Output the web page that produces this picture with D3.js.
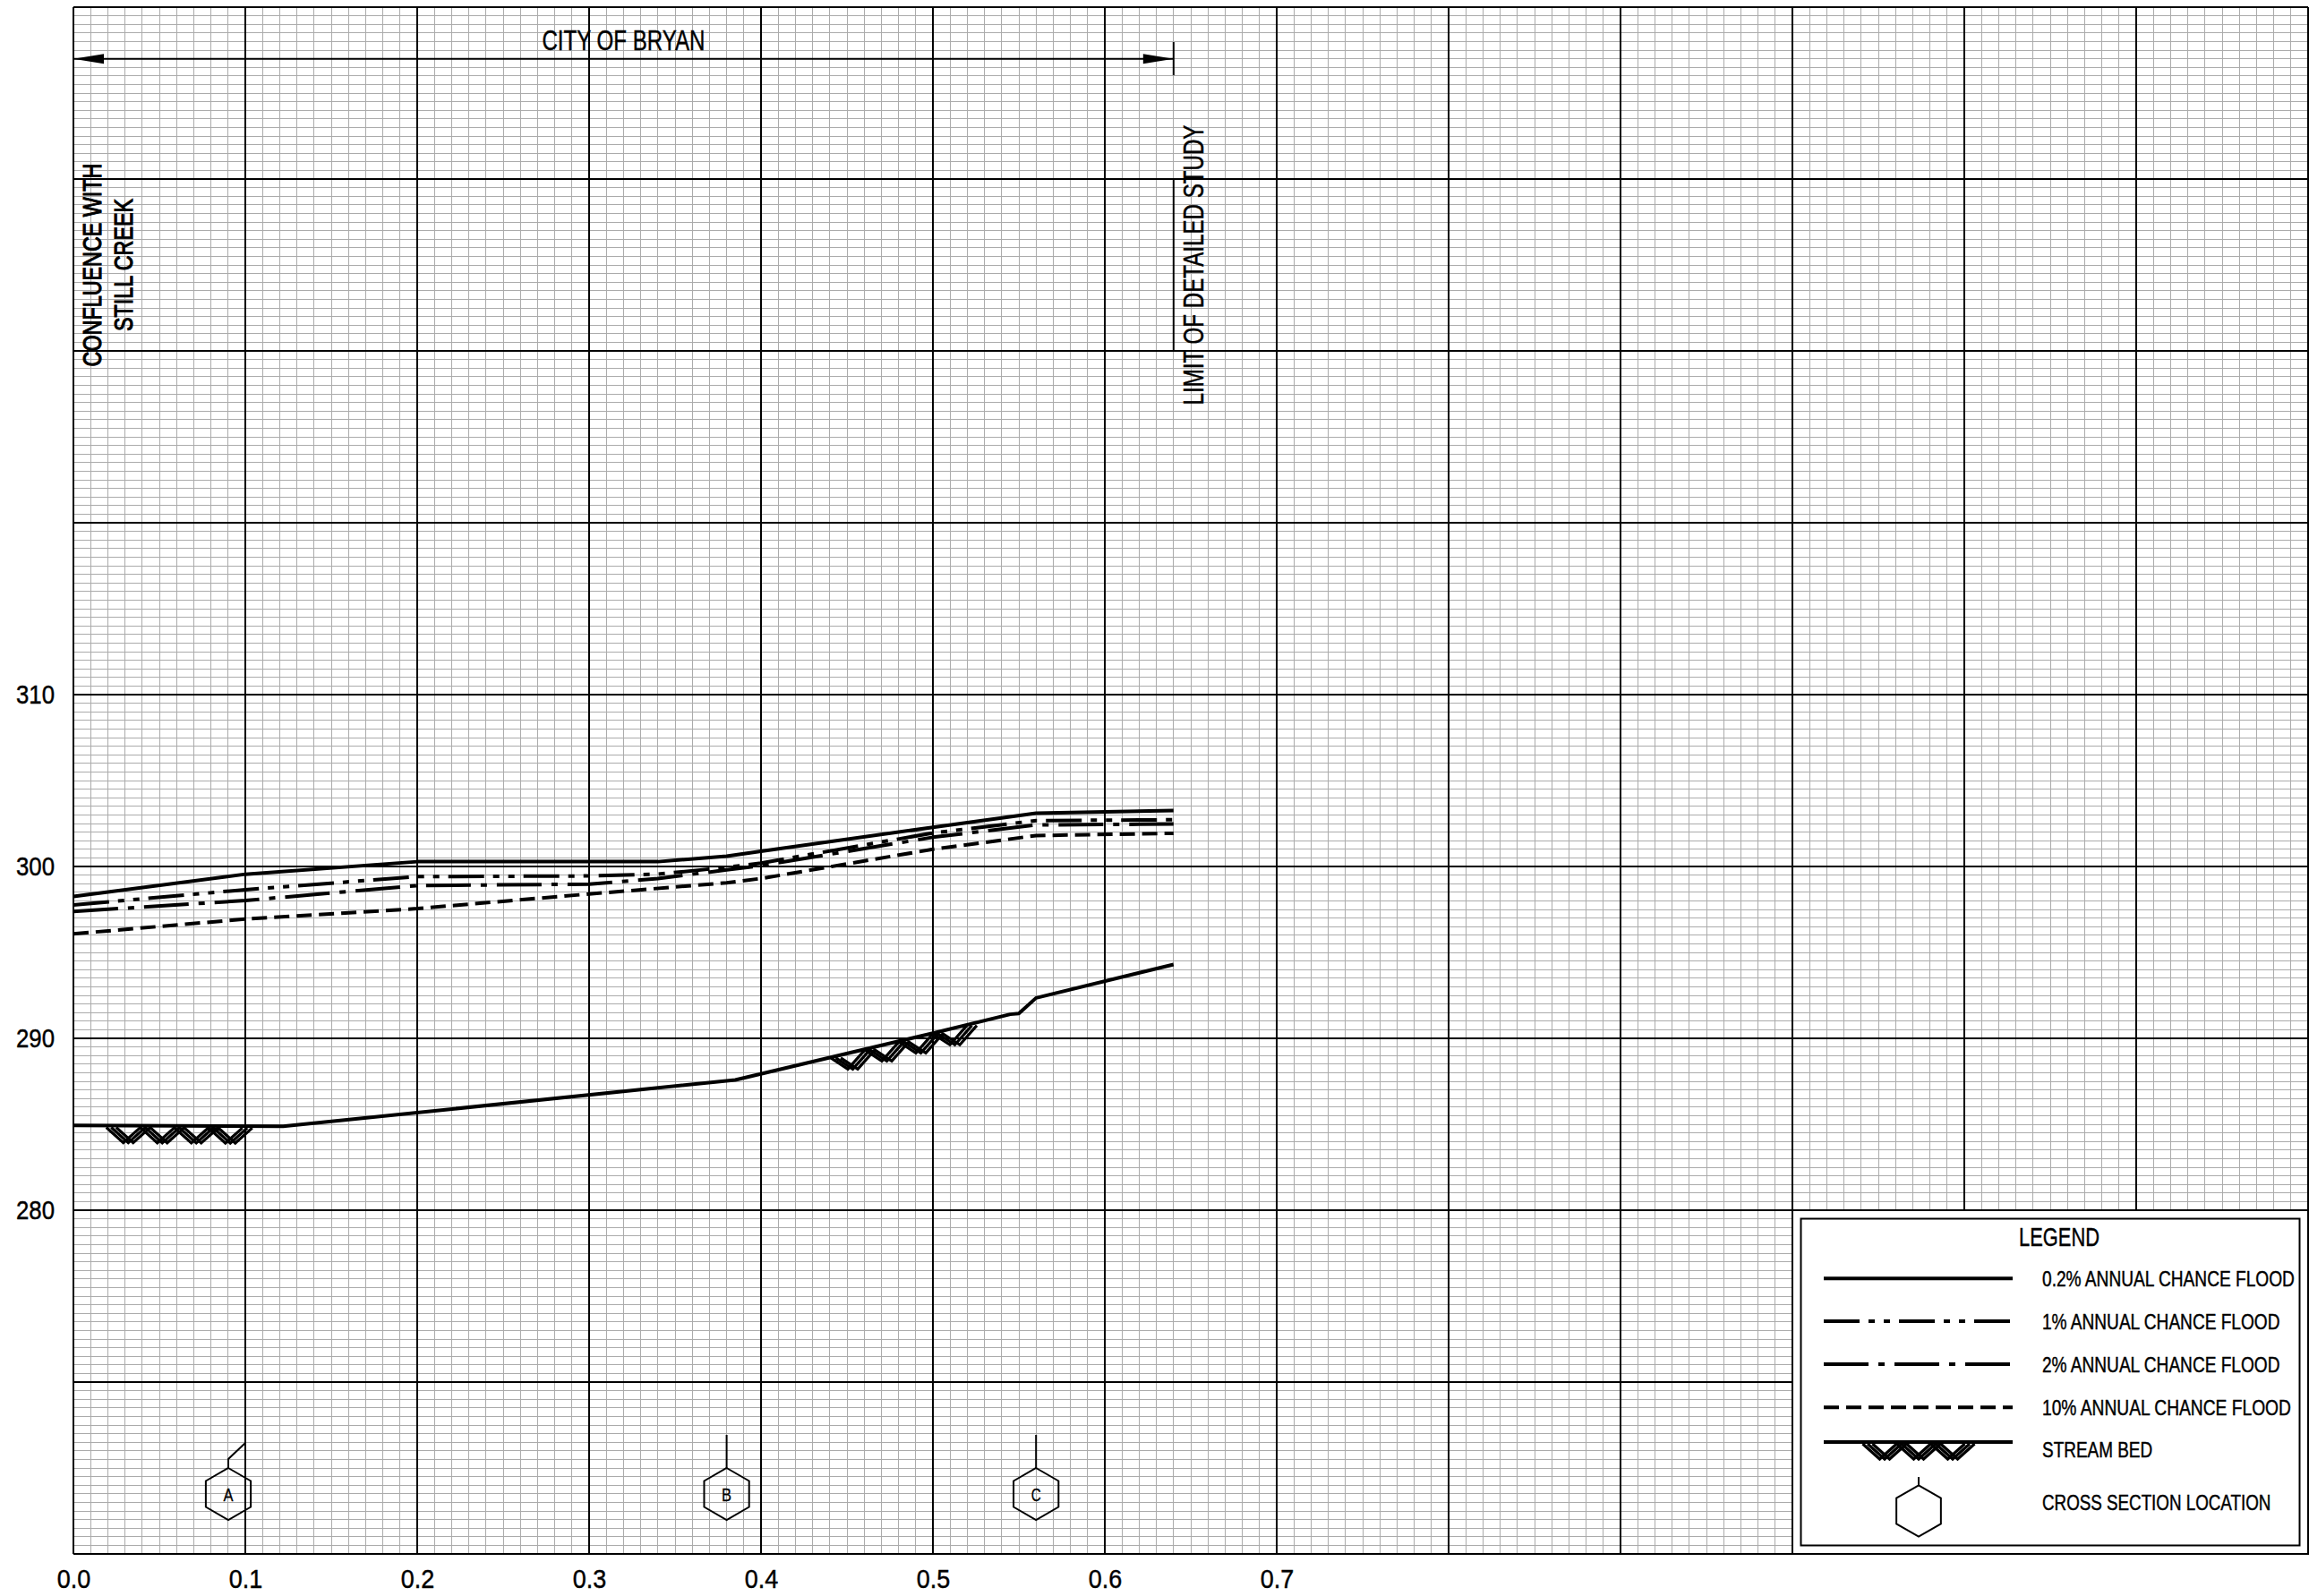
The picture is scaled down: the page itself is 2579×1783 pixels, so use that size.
<!DOCTYPE html>
<html><head><meta charset="utf-8">
<script src="https://cdn.jsdelivr.net/npm/d3@7"></script>
<style>
html,body{margin:0;padding:0;background:#fff;}
svg{display:block;background:#fff;}
</style></head><body>
<svg id="chart" width="2579" height="1783"></svg>
<script>
// ---------------- DATA ----------------
const floodNames = ["0.2% ANNUAL CHANCE FLOOD", "1% ANNUAL CHANCE FLOOD", "2% ANNUAL CHANCE FLOOD", "10% ANNUAL CHANCE FLOOD"];
const flood02X = [0, 0.1, 0.2, 0.34, 0.38, 0.4, 0.5, 0.56, 0.64];
const flood02Y = [298.25, 299.55, 300.28, 300.28, 300.6, 300.88, 302.28, 303.1, 303.25];
const flood1X = [0, 0.1, 0.2, 0.3, 0.34, 0.38, 0.4, 0.5, 0.56, 0.64];
const flood1Y = [297.76, 298.65, 299.41, 299.45, 299.55, 299.95, 300.2, 301.95, 302.67, 302.72];
const flood2X = [0, 0.1, 0.2, 0.3, 0.34, 0.38, 0.4, 0.5, 0.56, 0.64];
const flood2Y = [297.38, 298.02, 298.89, 298.97, 299.3, 299.8, 300.05, 301.7, 302.42, 302.47];
const flood10X = [0, 0.1, 0.2, 0.3, 0.38, 0.4, 0.5, 0.56, 0.64];
const flood10Y = [296.08, 296.94, 297.55, 298.4, 299.05, 299.3, 301.0, 301.8, 301.93];
const bedX = [0, 0.122, 0.385, 0.5, 0.545, 0.55, 0.56, 0.64];
const bedY = [284.93, 284.88, 287.58, 290.3, 291.4, 291.45, 292.35, 294.3];
const bedHatchFrom = [0.022, 0.4435];
const bedHatchTo = [0.104, 0.523];
const xsLabels = ["A", "B", "C"];
const xsDist = [0.1, 0.38, 0.56];
const xTicks = [0, 0.1, 0.2, 0.3, 0.4, 0.5, 0.6, 0.7];
const yTicks = [280, 290, 300, 310];
const cityName = "CITY OF BRYAN";
const cityFrom = 0, cityTo = 0.64;
const confluenceText = ["CONFLUENCE WITH", "STILL CREEK"];
const limitText = "LIMIT OF DETAILED STUDY";
const legendTitle = "LEGEND";
const legendExtra = ["STREAM BED", "CROSS SECTION LOCATION"];

// ---------------- SETUP ----------------
const FONT = '"Liberation Sans",Arimo,Arial,sans-serif';
const svg = d3.select("#chart");
const x = d3.scaleLinear().domain([0, 1.3]).range([82, 2578]);
const y = d3.scaleLinear().domain([260, 350]).range([1736, 8]);

// condensed lettering: squeeze a text horizontally to a target width
function squeeze(t, w) {
  const nat = t.node().getComputedTextLength();
  t.attr("transform", `scale(${(w / nat).toFixed(4)},1)`);
  return t;
}
function label(s, size, px, py, w, opts = {}) {
  const g = svg.append("g").attr("transform", `translate(${px},${py}) rotate(${opts.rotate || 0})`);
  const t = g.append("text").attr("font-family", FONT).attr("font-size", size)
    .attr("fill", "#000").attr("stroke", "#000").attr("stroke-width", opts.sw == null ? 0.45 : opts.sw)
    .attr("text-anchor", opts.anchor || "start").text(s);
  return squeeze(t, w);
}

const grid = svg.append("g");
for (let i = 0; i <= 130; i++) {
  if (i % 10 === 0) continue;
  const xv = x(i / 100);
  grid.append("line").attr("x1", xv).attr("x2", xv).attr("y1", y(350)).attr("y2", y(260))
    .attr("stroke", "#ababab").attr("stroke-width", 1).attr("shape-rendering", "crispEdges");
}
for (let j = 0; j <= 180; j++) {
  if (j % 20 === 0) continue;
  const yv = y(260 + j * 0.5);
  grid.append("line").attr("x1", x(0)).attr("x2", x(1.3)).attr("y1", yv).attr("y2", yv)
    .attr("stroke", "#ababab").attr("stroke-width", 1).attr("shape-rendering", "crispEdges");
}
for (let i = 0; i <= 13; i++) {
  const xv = x(i / 10);
  grid.append("line").attr("x1", xv).attr("x2", xv).attr("y1", y(350)).attr("y2", y(260))
    .attr("stroke", "#000").attr("stroke-width", 2);
}
for (let j = 0; j <= 9; j++) {
  const yv = y(260 + j * 10);
  grid.append("line").attr("x1", x(0)).attr("x2", x(1.3)).attr("y1", yv).attr("y2", yv)
    .attr("stroke", "#000").attr("stroke-width", 2);
}

// legend background
const lgX0 = x(1.0), lgX1 = x(1.3), lgY0 = y(280), lgY1 = y(260);
svg.append("rect").attr("x", lgX0).attr("y", lgY0).attr("width", lgX1 - lgX0).attr("height", lgY1 - lgY0)
  .attr("fill", "#fff").attr("stroke", "#000").attr("stroke-width", 2);
svg.append("rect").attr("x", lgX0 + 9.5).attr("y", lgY0 + 9.5).attr("width", lgX1 - lgX0 - 19).attr("height", lgY1 - lgY0 - 19)
  .attr("fill", "none").attr("stroke", "#000").attr("stroke-width", 2);

// ---------------- AXES ----------------
const xAxis = d3.axisBottom(x).tickValues(xTicks).tickFormat(d3.format(".1f")).tickSize(0).tickPadding(17);
const gx = svg.append("g").attr("transform", `translate(0,${y(260)})`).call(xAxis);
gx.select(".domain").remove();
gx.selectAll("text").attr("font-family", FONT).attr("font-size", 30).attr("fill", "#000")
  .attr("stroke", "#000").attr("stroke-width", 0.45).each(function () { squeeze(d3.select(this), 37.5); });

const yAxis = d3.axisLeft(y).tickValues(yTicks).tickFormat(d3.format("d")).tickSize(0).tickPadding(21);
const gy = svg.append("g").attr("transform", `translate(${x(0)},0)`).call(yAxis);
gy.select(".domain").remove();
gy.selectAll("text").attr("font-family", FONT).attr("font-size", 30).attr("fill", "#000")
  .attr("stroke", "#000").attr("stroke-width", 0.45)
  .each(function () {
    const t = d3.select(this);
    const nat = this.getComputedTextLength();
    const sx = 43 / nat;
    // keep the right edge at the padding position while squeezing
    t.attr("x", -21 / sx).attr("transform", `scale(${sx.toFixed(4)},1)`);
  });

// ---------------- SERIES ----------------
const series = [
  { xs: flood02X, ys: flood02Y, dash: null },
  { xs: flood1X, ys: flood1Y, dash: "40,10,7,10,7,10" },
  { xs: flood2X, ys: flood2Y, dash: "50,11,7,11" },
  { xs: flood10X, ys: flood10Y, dash: "17,8" }
];
const lineGen = d3.line().x(d => x(d[0])).y(d => y(d[1]));
series.forEach(s => {
  const pts = s.xs.map((v, i) => [v, s.ys[i]]);
  svg.append("path").attr("d", lineGen(pts)).attr("fill", "none").attr("stroke", "#000")
    .attr("stroke-width", 4).attr("stroke-dasharray", s.dash).attr("stroke-linejoin", "round");
});
const bedPts = bedX.map((v, i) => [v, bedY[i]]);
svg.append("path").attr("d", lineGen(bedPts)).attr("fill", "none").attr("stroke", "#000")
  .attr("stroke-width", 4).attr("stroke-linejoin", "round");
const bedAt = d3.scaleLinear().domain(bedX).range(bedY);

function hatch(px0, px1, lineYpx) {
  const half = 19, depth = 19;
  [-5.5, 0, 5.5].forEach(off => {
    const pts = [];
    let k = 0;
    for (let px = px0; px <= px1 + 0.5; px += half, k++) {
      pts.push([px + off, lineYpx(px) + (k % 2 === 0 ? 2 : depth)]);
    }
    svg.append("path").attr("d", d3.line()(pts)).attr("fill", "none").attr("stroke", "#000")
      .attr("stroke-width", 3.2).attr("stroke-linejoin", "miter");
  });
}
bedHatchFrom.forEach((f, i) => {
  hatch(x(f), x(bedHatchTo[i]), px => y(bedAt(x.invert(px))));
});

// ---------------- CROSS SECTIONS ----------------
function hexPath(cx, cy, r) {
  const pts = d3.range(6).map(k => {
    const a = (-90 + 60 * k) * Math.PI / 180;
    return [cx + r * Math.cos(a), cy + r * Math.sin(a)];
  });
  return d3.line()(pts) + "Z";
}
const hexCY = 1669, hexR = 29;
xsLabels.forEach((lab, i) => {
  const lx = x(xsDist[i]);
  const hx = i === 0 ? lx - 19 : lx;
  svg.append("path").attr("d", hexPath(hx, hexCY, hexR)).attr("fill", "none").attr("stroke", "#000").attr("stroke-width", 2);
  if (i === 0) {
    svg.append("path").attr("d", d3.line()([[hx, hexCY - hexR], [hx, hexCY - hexR - 10], [lx, hexCY - hexR - 28]]))
      .attr("fill", "none").attr("stroke", "#000").attr("stroke-width", 2);
  } else {
    svg.append("line").attr("x1", hx).attr("x2", hx).attr("y1", hexCY - hexR).attr("y2", hexCY - hexR - 37)
      .attr("stroke", "#000").attr("stroke-width", 2);
  }
  label(lab, 21, hx, hexCY + 7.5, 11, { anchor: "middle", sw: 0.3 });
});

// ---------------- ANNOTATIONS ----------------
const arrY = 65.7;
svg.append("line").attr("x1", x(cityFrom)).attr("x2", x(cityTo)).attr("y1", arrY).attr("y2", arrY)
  .attr("stroke", "#000").attr("stroke-width", 2);
svg.append("path").attr("d", `M${x(cityFrom)},${arrY}L${x(cityFrom) + 34},${arrY - 5.5}L${x(cityFrom) + 34},${arrY + 5.5}Z`).attr("fill", "#000");
svg.append("path").attr("d", `M${x(cityTo)},${arrY}L${x(cityTo) - 34},${arrY - 5.5}L${x(cityTo) - 34},${arrY + 5.5}Z`).attr("fill", "#000");
svg.append("line").attr("x1", x(cityTo)).attr("x2", x(cityTo)).attr("y1", 47).attr("y2", 84)
  .attr("stroke", "#000").attr("stroke-width", 2);
label(cityName, 32, x((cityFrom + cityTo) / 2), 56, 182, { anchor: "middle" });

svg.append("line").attr("x1", x(cityTo)).attr("x2", x(cityTo)).attr("y1", y(340)).attr("y2", y(330))
  .attr("stroke", "#000").attr("stroke-width", 2);
label(limitText, 31, x(cityTo) + 33, 296, 313, { anchor: "middle", rotate: -90 });

label(confluenceText[0], 29, 113, 296, 227, { anchor: "middle", rotate: -90, sw: 1.1 });
label(confluenceText[1], 30, 148, 296, 148, { anchor: "middle", rotate: -90, sw: 1.1 });

// ---------------- LEGEND ----------------
label(legendTitle, 30, 2300, 1392, 90, { anchor: "middle" });
const sx0 = 2037, sx1 = 2248, tx = 2281;
const rowY = [1428.3, 1476, 1524, 1572.3];
const rowW = [282, 265.6, 265.6, 278];
series.forEach((s, i) => {
  svg.append("line").attr("x1", sx0).attr("x2", sx1).attr("y1", rowY[i]).attr("y2", rowY[i])
    .attr("stroke", "#000").attr("stroke-width", 4).attr("stroke-dasharray", s.dash);
  label(floodNames[i], 24, tx, rowY[i] + 9, rowW[i]);
});
const bedLegY = 1611;
svg.append("line").attr("x1", sx0).attr("x2", sx1).attr("y1", bedLegY).attr("y2", bedLegY)
  .attr("stroke", "#000").attr("stroke-width", 4);
hatch(2086, 2200, () => bedLegY);
label(legendExtra[0], 24, tx, 1628.3, 123.2);
svg.append("path").attr("d", hexPath(2143, 1688, 28.7)).attr("fill", "none").attr("stroke", "#000").attr("stroke-width", 2);
svg.append("line").attr("x1", 2143).attr("x2", 2143).attr("y1", 1688 - 28.7).attr("y2", 1650)
  .attr("stroke", "#000").attr("stroke-width", 2);
label(legendExtra[1], 24, tx, 1686.7, 255.4);
</script>
</body></html>
